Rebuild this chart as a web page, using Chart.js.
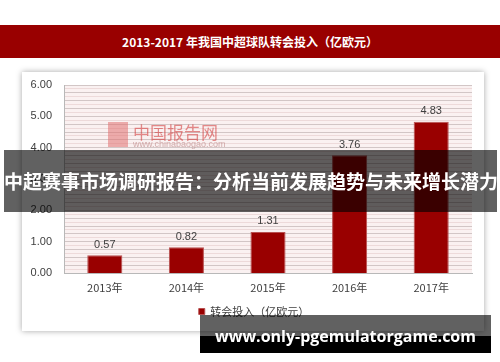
<!DOCTYPE html>
<html>
<head>
<meta charset="utf-8">
<script src="https://cdn.jsdelivr.net/npm/chart.js@4"></script>
<style>
  html, body { margin: 0; padding: 0; background: #fff; }
  #wrap { position: relative; width: 500px; height: 362px; overflow: hidden; font-family: "Noto Sans CJK SC", sans-serif; }
  #band { position: absolute; left: 0; top: 25px; width: 500px; height: 33px; background: #990000; color: #fff;
          font: bold 12px "Noto Sans CJK SC", sans-serif; line-height: 33px; text-align: center; }
  #panel { position: absolute; left: 22px; top: 72px; width: 462px; height: 259px; background: #fff;
           box-shadow: 0 0 6px rgba(0,0,0,0.35); }
  #chart { position: absolute; left: 0; top: 0; }
  #mark { position: absolute; left: 108px; top: 122px; opacity: 0.55; }
  #mark .logo { position: absolute; left: 0; top: 0; width: 20px; height: 25px; background: #e07070; }
  #mark .cn { position: absolute; left: 25px; top: -3px; font: 17px "Noto Sans CJK SC", sans-serif; color: #d03030; white-space: nowrap; }
  #mark .url { position: absolute; left: 25px; top: 17px; font: 9px "Liberation Sans", sans-serif; color: #b07070; white-space: nowrap; }
  #banner { position: absolute; left: 4px; top: 150px; width: 493px; height: 62px; background: rgba(0,0,0,0.62);
            color: #fff; font: bold 19px "Noto Sans CJK SC", sans-serif; line-height: 62px; text-align: center; white-space: nowrap; }
  #site { position: absolute; left: 200px; top: 315px; width: 291px; height: 38px;
          background: linear-gradient(rgba(0,0,0,0.62) 0, rgba(0,0,0,0.62) 21px, #000 21px);
          color: #fff; font: bold 16px "Open Sans", sans-serif; line-height: 42px; text-align: center; white-space: nowrap; }
</style>
</head>
<body>
<div id="wrap">
  <div id="band">2013-2017 年我国中超球队转会投入（亿欧元）</div>
  <div id="panel"></div>
  <canvas id="chart" width="500" height="362"></canvas>
  <div id="mark"><div class="logo"></div><div class="cn">中国报告网</div><div class="url">www.chinabaogao.com</div></div>
  <div id="banner">中超赛事市场调研报告：分析当前发展趋势与未来增长潜力</div>
  <div id="site">www.only-pgemulatorgame.com</div>
</div>
<script>
const years = ['2013年', '2014年', '2015年', '2016年', '2017年'];
const transferSpend = [0.57, 0.82, 1.31, 3.76, 4.83];
const seriesName = '转会投入（亿欧元）';
const yTicks = [0, 1, 2, 3, 4, 5, 6];

// 绘图区背景
const plotBg = {
  id: 'plotBg',
  beforeDraw(chart) {
    const a = chart.chartArea, ctx = chart.ctx;
    ctx.save();
    ctx.fillStyle = '#faf1f1';
    ctx.fillRect(a.left, a.top, a.right - a.left, a.bottom - a.top);
    ctx.restore();
  }
};

// 图例稍微右移
const legendShift = {
  id: 'legendShift',
  afterLayout(chart) {
    chart.legend.left += 7;
    chart.legend.right += 7;
  }
};

// 柱顶数值
const barLabels = {
  id: 'barLabels',
  afterDatasetsDraw(chart) {
    const ctx = chart.ctx;
    const meta = chart.getDatasetMeta(0);
    ctx.save();
    ctx.font = '11px "Liberation Sans", sans-serif';
    ctx.fillStyle = '#404040';
    ctx.textAlign = 'center';
    ctx.textBaseline = 'bottom';
    meta.data.forEach((bar, i) => {
      ctx.fillText(transferSpend[i].toFixed(2), bar.x, bar.y - 5);
    });
    ctx.restore();
  }
};

new Chart(document.getElementById('chart'), {
  type: 'bar',
  data: {
    labels: years,
    datasets: [{
      label: seriesName,
      data: transferSpend,
      backgroundColor: '#990000',
      borderColor: '#b85050',
      borderWidth: 1,
      barPercentage: 0.43,
      categoryPercentage: 1
    }]
  },
  options: {
    responsive: false,
    animation: false,
    layout: { padding: { left: 22, right: 28, top: 85, bottom: 35 } },
    scales: {
      x: {
        grid: { display: false },
        border: { color: '#b8b8b8' },
        ticks: { color: '#404040', font: { size: 11, family: 'Noto Sans CJK SC' }, padding: 0 },
        afterFit(s) { s.height = 25; }
      },
      y: {
        min: 0, max: 6,
        afterBuildTicks(s) { s.ticks = yTicks.map(v => ({ value: v })); },
        grid: { display: false },
        border: { color: '#b8b8b8' },
        ticks: { color: '#404040', font: { size: 11, family: 'Liberation Sans' }, padding: 4,
                 callback: v => Number(v).toFixed(2) },
        afterFit(s) { s.width = 42; }
      },
      yFine: {
        position: 'left',
        min: 0, max: 6,
        ticks: { display: false, stepSize: 0.125 },
        border: { display: false },
        grid: {
          drawTicks: false,
          color: c => (Math.round(c.tick.value * 8) % 2 === 0 ? '#d2c6c6' : '#eddada')
        },
        afterFit(s) { s.width = 0; }
      }
    },
    plugins: {
      legend: {
        position: 'bottom',
        labels: { boxWidth: 6, boxHeight: 6, color: '#404040', padding: 8,
                  font: { size: 11, family: 'Noto Sans CJK SC' } }
      },
      tooltip: { enabled: false }
    }
  },
  plugins: [plotBg, legendShift, barLabels]
});
</script>
</body>
</html>
